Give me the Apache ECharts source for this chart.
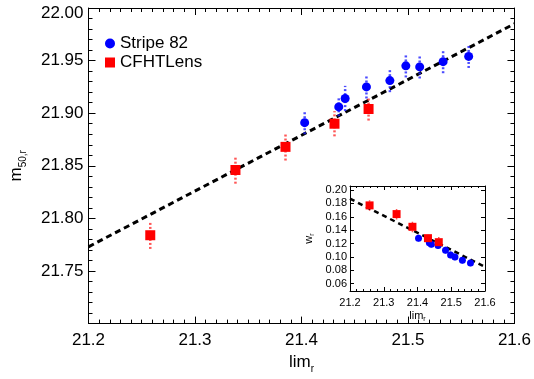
<!DOCTYPE html>
<html>
<head>
<meta charset="utf-8">
<script src="https://cdn.jsdelivr.net/npm/echarts@6/dist/echarts.min.js"></script>
<style>
  html, body { margin: 0; padding: 0; background: #fff; }
  #chart { width: 534px; height: 379px; }
</style>
</head>
<body>
<div id="chart"></div>
<script>
// Stripe 82: completeness limit, 50% magnitude, width of the transition
const stripeLim    = [21.403, 21.435, 21.441, 21.461, 21.483, 21.498, 21.511, 21.533, 21.557];
const stripeM50    = [21.891, 21.906, 21.914, 21.925, 21.931, 21.945, 21.944, 21.949, 21.954];
const stripeM50Err = [0.011, 0.009, 0.012, 0.011, 0.011, 0.011, 0.011, 0.011, 0.011];
const stripeW      = [0.128, 0.121, 0.119, 0.117, 0.110, 0.103, 0.100, 0.095, 0.091];
const stripeWErr   = [0.005, 0.005, 0.005, 0.005, 0.005, 0.005, 0.005, 0.005, 0.005];

// CFHTLens fields
const cfhtLim    = [21.258, 21.338, 21.385, 21.431, 21.463];
const cfhtM50    = [21.784, 21.846, 21.868, 21.890, 21.904];
const cfhtM50Err = [0.013, 0.013, 0.013, 0.012, 0.011];
const cfhtW      = [0.177, 0.164, 0.145, 0.128, 0.122];
const cfhtWErr   = [0.008, 0.008, 0.008, 0.006, 0.008];

// Linear relations drawn as dashed lines
const fitLim = [21.2, 21.6];
const fitM50 = [21.773, 21.985];
const fitW   = [0.187, 0.085];

// Inset y-axis tick values
const wTicks = [0.06, 0.08, 0.10, 0.12, 0.14, 0.16, 0.18, 0.20];

const FONT = 'Liberation Sans, Arial, Helvetica, sans-serif';
const BLUE = '#0000ff', RED = '#ff0000';
const BLUE_ERR = 'rgba(30,30,255,0.8)', RED_ERR = 'rgba(255,30,30,0.75)';

const zip = (a, b) => a.map((v, i) => [v, b[i]]);
const errData = (x, y, e) => x.map((v, i) => [v, y[i] - e[i], y[i] + e[i]]);

function errorSeries(xi, yi, data, color, width, dash, z) {
  return {
    type: 'custom', xAxisIndex: xi, yAxisIndex: yi, z: z, silent: true,
    data: data,
    renderItem: function (params, api) {
      const p1 = api.coord([api.value(0), api.value(1)]);
      const p2 = api.coord([api.value(0), api.value(2)]);
      return {
        type: 'line',
        shape: { x1: p1[0], y1: p1[1], x2: p2[0], y2: p2[1] },
        style: { stroke: color, lineWidth: width, lineDash: dash }
      };
    }
  };
}

function frameAxis(base, opts) {
  return Object.assign({
    axisLine: { show: true, onZero: false, lineStyle: { color: '#000', width: 1 } },
    splitLine: { show: false },
    axisTick: { show: true, inside: true, length: 7, lineStyle: { color: '#000' } },
    minorTick: { show: true, splitNumber: 5, length: 4, lineStyle: { color: '#000' } },
  }, base, opts);
}

const mainX = { type: 'value', min: 21.2, max: 21.6, interval: 0.1, gridIndex: 0 };
const mainY = { type: 'value', min: 21.70, max: 22.00, interval: 0.05, gridIndex: 0 };
const insX  = { type: 'value', min: 21.2, max: 21.6, interval: 0.1, gridIndex: 1 };
const insY  = { type: 'value', min: 0.049, max: 0.206, gridIndex: 1 };

const insTick = { show: true, inside: true, length: 4, lineStyle: { color: '#000' } };
const insMinor = { show: true, splitNumber: 5, length: 2, lineStyle: { color: '#000' } };

const option = {
  animation: false,
  backgroundColor: '#fff',
  textStyle: { fontFamily: FONT },
  grid: [
    { left: 80, right: 18, top: 8, bottom: 41 },
    { left: 350, width: 135, top: 186, height: 105 }
  ],
  legend: {
    orient: 'vertical', left: 100, top: 30, itemWidth: 10, itemHeight: 10, itemGap: 2,
    textStyle: { fontSize: 17, color: '#000', fontFamily: FONT },
    data: [{ name: 'Stripe 82', icon: 'circle' }, { name: 'CFHTLens', icon: 'rect' }]
  },
  xAxis: [
    frameAxis(mainX, {
      position: 'bottom',
      minorTick: { show: true, splitNumber: 10, length: 4, lineStyle: { color: '#000' } },
      axisLabel: { fontSize: 17, color: '#000', margin: 8, fontFamily: FONT, formatter: v => v.toFixed(1) },
      name: '{a|lim}{b|r}', nameLocation: 'middle', nameGap: 24,
      nameTextStyle: {
        color: '#000', fontFamily: FONT,
        rich: {
          a: { fontSize: 17, lineHeight: 24, color: '#000', fontFamily: FONT },
          b: { fontSize: 10, lineHeight: 10, verticalAlign: 'bottom', color: '#000', fontFamily: FONT }
        }
      }
    }),
    frameAxis(mainX, {
      position: 'top',
      minorTick: { show: true, splitNumber: 10, length: 4, lineStyle: { color: '#000' } },
      axisLabel: { show: false }
    }),
    frameAxis(insX, {
      position: 'bottom', z: 8,
      axisTick: insTick, minorTick: insMinor,
      axisLabel: { fontSize: 11, color: '#000', margin: 6, fontFamily: FONT, formatter: v => v.toFixed(1) },
      name: '{a|lim}{b|r}', nameLocation: 'middle', nameGap: 17,
      nameTextStyle: {
        color: '#000', fontFamily: FONT,
        rich: {
          a: { fontSize: 11, lineHeight: 15, color: '#000', fontFamily: FONT },
          b: { fontSize: 7, lineHeight: 7, verticalAlign: 'bottom', color: '#000', fontFamily: FONT }
        }
      }
    }),
    frameAxis(insX, {
      position: 'top', z: 8,
      axisTick: insTick, minorTick: insMinor,
      axisLabel: { show: false }
    })
  ],
  yAxis: [
    frameAxis(mainY, {
      position: 'left',
      axisLabel: {
        fontSize: 17, color: '#000', margin: 5, fontFamily: FONT,
        formatter: v => (Math.abs(v - 21.70) < 1e-6 ? '' : (Math.abs(v - 22.0) < 1e-6 ? '{t|' + v.toFixed(2) + '}' : v.toFixed(2))),
        rich: { t: { fontSize: 17, color: '#000', fontFamily: FONT, padding: [10, 0, 0, 0] } }
      },
      name: '{a|m}{b|50,r}', nameLocation: 'middle', nameGap: 60, nameRotate: 90,
      nameTextStyle: {
        color: '#000', fontFamily: FONT,
        rich: {
          a: { fontSize: 17, lineHeight: 24, color: '#000', fontFamily: FONT },
          b: { fontSize: 10, lineHeight: 10, verticalAlign: 'bottom', color: '#000', fontFamily: FONT }
        }
      }
    }),
    frameAxis(mainY, { position: 'right', axisLabel: { show: false } }),
    frameAxis(insY, {
      position: 'left', z: 8,
      axisTick: Object.assign({ customValues: wTicks }, insTick),
      minorTick: { show: false },
      axisLabel: { fontSize: 11, color: '#000', margin: 3, fontFamily: FONT, customValues: wTicks, formatter: v => v.toFixed(2) },
      name: '{a|w}{b|r}', nameLocation: 'middle', nameGap: 34, nameRotate: 90,
      nameTextStyle: {
        color: '#000', fontFamily: FONT,
        rich: {
          a: { fontSize: 11, lineHeight: 15, color: '#000', fontFamily: FONT },
          b: { fontSize: 7, lineHeight: 7, verticalAlign: 'bottom', color: '#000', fontFamily: FONT }
        }
      }
    }),
    frameAxis(insY, {
      position: 'right', z: 8,
      axisTick: Object.assign({ customValues: wTicks }, insTick),
      minorTick: { show: false },
      axisLabel: { show: false }
    })
  ],
  series: [
    // main panel
    {
      type: 'line', xAxisIndex: 0, yAxisIndex: 0, z: 2, silent: true, symbol: 'none',
      data: zip(fitLim, fitM50),
      lineStyle: { color: '#000', width: 3, type: [6, 4] }
    },
    errorSeries(0, 0, errData(stripeLim, stripeM50, stripeM50Err), BLUE_ERR, 2.5, [2, 2], 3),
    errorSeries(0, 0, errData(cfhtLim, cfhtM50, cfhtM50Err), RED_ERR, 2.5, [2, 2], 3),
    {
      name: 'Stripe 82', type: 'scatter', xAxisIndex: 0, yAxisIndex: 0, z: 4,
      symbol: 'circle', symbolSize: 9, itemStyle: { color: BLUE, opacity: 1 },
      data: zip(stripeLim, stripeM50)
    },
    {
      name: 'CFHTLens', type: 'scatter', xAxisIndex: 0, yAxisIndex: 0, z: 4,
      symbol: 'rect', symbolSize: 10, itemStyle: { color: RED, opacity: 1 },
      data: zip(cfhtLim, cfhtM50)
    },
    // inset panel
    {
      type: 'line', xAxisIndex: 2, yAxisIndex: 2, z: 6, silent: true, symbol: 'none',
      data: zip(fitLim, fitW),
      lineStyle: { color: '#000', width: 2.5, type: [5, 4] }
    },
    errorSeries(2, 2, errData(stripeLim, stripeW, stripeWErr), BLUE_ERR, 1.5, [1.5, 1.5], 6),
    errorSeries(2, 2, errData(cfhtLim, cfhtW, cfhtWErr), RED_ERR, 1.5, [1.5, 1.5], 6),
    {
      name: 'Stripe 82 w', type: 'scatter', xAxisIndex: 2, yAxisIndex: 2, z: 7,
      symbol: 'circle', symbolSize: 7, itemStyle: { color: BLUE, opacity: 1 },
      data: zip(stripeLim, stripeW)
    },
    {
      name: 'CFHTLens w', type: 'scatter', xAxisIndex: 2, yAxisIndex: 2, z: 7,
      symbol: 'rect', symbolSize: 8, itemStyle: { color: RED, opacity: 1 },
      data: zip(cfhtLim, cfhtW)
    }
  ]
};

const chart = echarts.init(document.getElementById('chart'), null, { renderer: 'canvas' });
chart.setOption(option);
</script>
</body>
</html>
